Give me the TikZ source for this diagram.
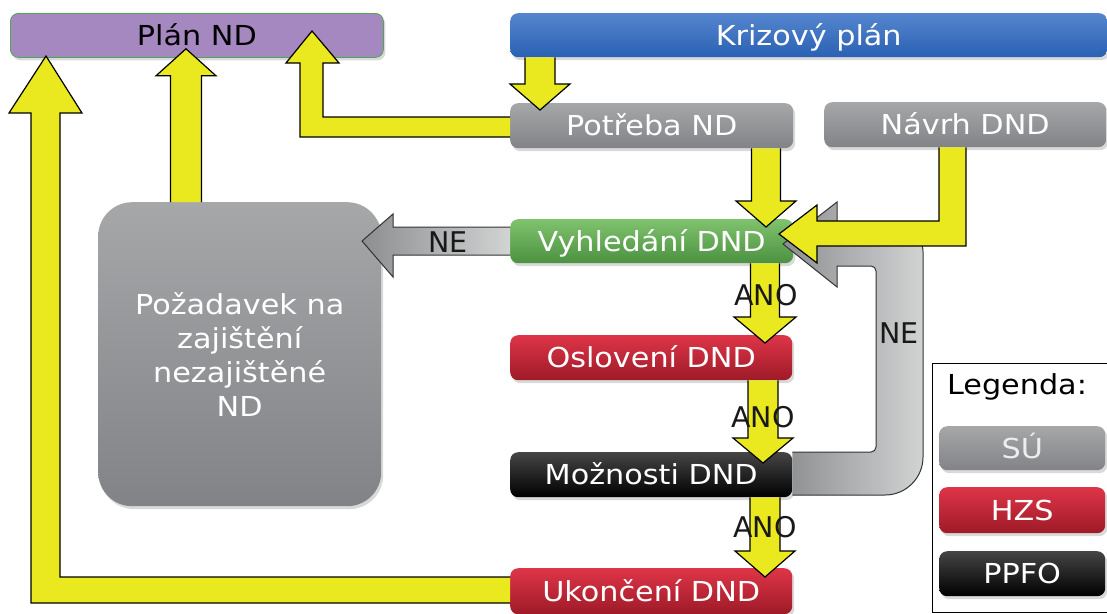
\documentclass[tikz,border=0pt]{standalone}
\usepackage{fontspec}
\setmainfont{DejaVu Sans}[FakeStretch=1.1]
\newfontfamily\lblfont{DejaVu Sans}
\usetikzlibrary{calc,shadows}
\definecolor{yel}{HTML}{EAE81E}
\definecolor{grT}{HTML}{A5A7A9}
\definecolor{grB}{HTML}{818386}
\definecolor{gnT}{HTML}{80C36E}
\definecolor{gnB}{HTML}{4B9140}
\definecolor{rdT}{HTML}{DE3548}
\definecolor{rdB}{HTML}{9E1A27}
\definecolor{bkT}{HTML}{454545}
\definecolor{bkB}{HTML}{000000}
\definecolor{blT}{HTML}{5585CE}
\definecolor{blB}{HTML}{2A61B3}
\definecolor{purp}{HTML}{A688C0}
\definecolor{pgreen}{HTML}{4FA84F}
\definecolor{arrL}{HTML}{8C8E90}
\definecolor{arrR}{HTML}{D2D3D3}
\definecolor{sutext}{HTML}{EDEDED}

% vertical block arrow: #1 x, #2 from anchor, #3 to anchor, #4 tip offset, #5 shaft half, #6 head half, #7 head length (signed)
\newcommand\blockv[7]{%
 \fill[yel] let \p1=(#2),\p2=(#3) in
  ({#1pt-#5pt},\y1) -- ({#1pt-#5pt},{\y2+(#4pt)+(#7pt)}) -- ({#1pt-#6pt},{\y2+(#4pt)+(#7pt)})
  -- ({#1pt},{\y2+(#4pt)}) -- ({#1pt+#6pt},{\y2+(#4pt)+(#7pt)}) -- ({#1pt+#5pt},{\y2+(#4pt)+(#7pt)})
  -- ({#1pt+#5pt},\y1) -- cycle;
 \draw[aline] let \p1=(#2),\p2=(#3) in
  ({#1pt-#5pt},\y1) -- ({#1pt-#5pt},{\y2+(#4pt)+(#7pt)}) -- ({#1pt-#6pt},{\y2+(#4pt)+(#7pt)})
  -- ({#1pt},{\y2+(#4pt)}) -- ({#1pt+#6pt},{\y2+(#4pt)+(#7pt)}) -- ({#1pt+#5pt},{\y2+(#4pt)+(#7pt)})
  -- ({#1pt+#5pt},\y1);}

\begin{document}
\begin{tikzpicture}[x=1pt,y=-1pt,
  box/.style={rectangle, rounded corners=8pt, minimum height=45pt, inner sep=0pt,
    anchor=north west, text=white, font=\fontsize{27.5}{30}\selectfont,
    text height=20pt, text depth=0pt,
    drop shadow={opacity=0.3,shadow xshift=2pt,shadow yshift=-3pt}},
  graybox/.style={box, top color=grT, bottom color=grB},
  greenbox/.style={box, top color=gnT, bottom color=gnB},
  redbox/.style={box, top color=rdT, bottom color=rdB},
  blackbox/.style={box, top color=bkT, bottom color=bkB},
  bluebox/.style={box, top color=blT, bottom color=blB},
  aline/.style={draw=black, line width=1.2pt, line join=miter},
  yarrowfill/.style={fill=yel},
  garrowfill/.style={left color=arrL, right color=arrR},
  gline/.style={draw=black!80, line width=1pt, line join=miter},
  lbl/.style={font=\lblfont\fontsize{28.5}{30}\selectfont, text=black!90, inner sep=0pt}
]
\useasboundingbox (0,0) rectangle (1107,613);

% boxes
\node[box, fill=purp, draw=pgreen, line width=0.8pt, text=black, minimum width=373pt, minimum height=44pt] (plan) at (10,13) {Plán ND};
\node[bluebox, minimum width=597pt, minimum height=44pt] (kriz) at (510,13) {Krizový plán};
\node[graybox, minimum width=283pt] (potreba) at (510,103) {Potřeba ND};
\node[graybox, minimum width=282pt] (navrh) at (824,102) {Návrh DND};
\node[greenbox, minimum width=283pt, minimum height=44pt] (vyhled) at (510,219) {Vyhledání DND};
\node[redbox, minimum width=282pt] (osl) at (510,335) {Oslovení DND};
\node[blackbox, minimum width=282pt] (mozn) at (510,452) {Možnosti DND};
\node[redbox, minimum width=282pt, minimum height=46pt] (ukon) at (510,568) {Ukončení DND};
\node[rectangle, rounded corners=34pt, anchor=north west, minimum width=283pt, minimum height=304pt,
  top color=grT, bottom color=grB, text=white, align=center, inner sep=0pt,
  font=\fontsize{27.5}{34}\selectfont,
  drop shadow={opacity=0.3,shadow xshift=2pt,shadow yshift=-3pt}] (pozad) at (98,202)
  {Požadavek na\\zajištění\\nezajištěné\\ND};

% legend
\draw[black, line width=1pt] (932,363) rectangle (1114,612);
\node[text=black, font=\fontsize{27.5}{30}\selectfont, inner sep=0pt] (leg) at (1017,387) {Legenda:};
\node[graybox, text=sutext, minimum width=166pt, minimum height=44pt] (su) at (939,426) {SÚ};
\node[redbox, minimum width=166pt, minimum height=46pt] (hzs) at (939,487) {HZS};
\node[blackbox, minimum width=166pt, minimum height=45pt] (ppfo) at (939,551) {PPFO};

% grey NE loop: Moznosti -> Vyhledani
\path[garrowfill] (mozn.east |- 0,495) -- (885,495) arc[start angle=90,end angle=0,radius=38]
  -- (923,252) arc[start angle=0,end angle=-90,radius=30] -- (837,222) -- (837,202) -- (783,244)
  -- (837,287) -- (837,266) -- (871,266) arc[start angle=-90,end angle=0,radius=5]
  -- (876,447) arc[start angle=0,end angle=90,radius=5] -- (mozn.east |- 0,452) -- cycle;
\draw[gline] (mozn.east |- 0,495) -- (885,495) arc[start angle=90,end angle=0,radius=38]
  -- (923,252) arc[start angle=0,end angle=-90,radius=30] -- (837,222) -- (837,202) -- (783,244)
  -- (837,287) -- (837,266) -- (871,266) arc[start angle=-90,end angle=0,radius=5]
  -- (876,447) arc[start angle=0,end angle=90,radius=5] -- (mozn.east |- 0,452);

% grey NE: Vyhledani -> Pozadavek
\path[garrowfill] (vyhled.west |- 0,227) -- (393,227) -- (393,214) -- (362,241) -- (393,277)
  -- (393,255) -- (vyhled.west |- 0,255) -- cycle;
\draw[gline] (vyhled.west |- 0,227) -- (393,227) -- (393,214) -- (362,241) -- (393,277)
  -- (393,255) -- (vyhled.west |- 0,255);

% yellow vertical arrows
\blockv{540}{kriz.south}{potreba.north}{-7}{15}{30}{26}
\blockv{186}{pozad.north}{plan.south}{9}{15.5}{30}{-27}
\blockv{766}{potreba.south}{vyhled.north}{-8}{14.5}{30}{26}
\blockv{765}{vyhled.south}{osl.north}{-8}{14.5}{31}{26}
\blockv{763}{osl.south}{mozn.north}{-11}{15}{30}{25}
\blockv{765}{mozn.south}{ukon.north}{-9}{15}{30}{26}

% yellow L arrows
\path[yarrowfill] (potreba.west |- 0,117) -- (323,117) -- (323,63) -- (339,63) -- (312,31)
  -- (286,63) -- (300,63) -- (300,137) -- (potreba.west |- 0,137) -- cycle;
\draw[aline] (potreba.west |- 0,117) -- (323,117) -- (323,63) -- (339,63) -- (312,31)
  -- (286,63) -- (300,63) -- (300,137) -- (potreba.west |- 0,137);

\path[yarrowfill] (ukon.west |- 0,577) -- (60,577) -- (60,113) -- (82,113) -- (46,56)
  -- (9,113) -- (31,113) -- (31,603) -- (ukon.west |- 0,603) -- cycle;
\draw[aline] (ukon.west |- 0,577) -- (60,577) -- (60,113) -- (82,113) -- (46,56)
  -- (9,113) -- (31,113) -- (31,603) -- (ukon.west |- 0,603);

\path[yarrowfill] (navrh.south -| 939,0) -- (939,221) -- (817,221) -- (817,205) -- (779,234)
  -- (817,263) -- (817,246) -- (966,246) -- (navrh.south -| 966,0) -- cycle;
\draw[aline] (navrh.south -| 939,0) -- (939,221) -- (817,221) -- (817,205) -- (779,234)
  -- (817,263) -- (817,246) -- (966,246) -- (navrh.south -| 966,0);

% labels
\node[lbl] (ne1) at (448,242) {NE};
\node[lbl] (ne2) at (899,333) {NE};
\node[lbl] (ano1) at (766,295) {ANO};
\node[lbl] (ano2) at (763,417) {ANO};
\node[lbl] (ano3) at (765,527) {ANO};
\end{tikzpicture}
\end{document}
